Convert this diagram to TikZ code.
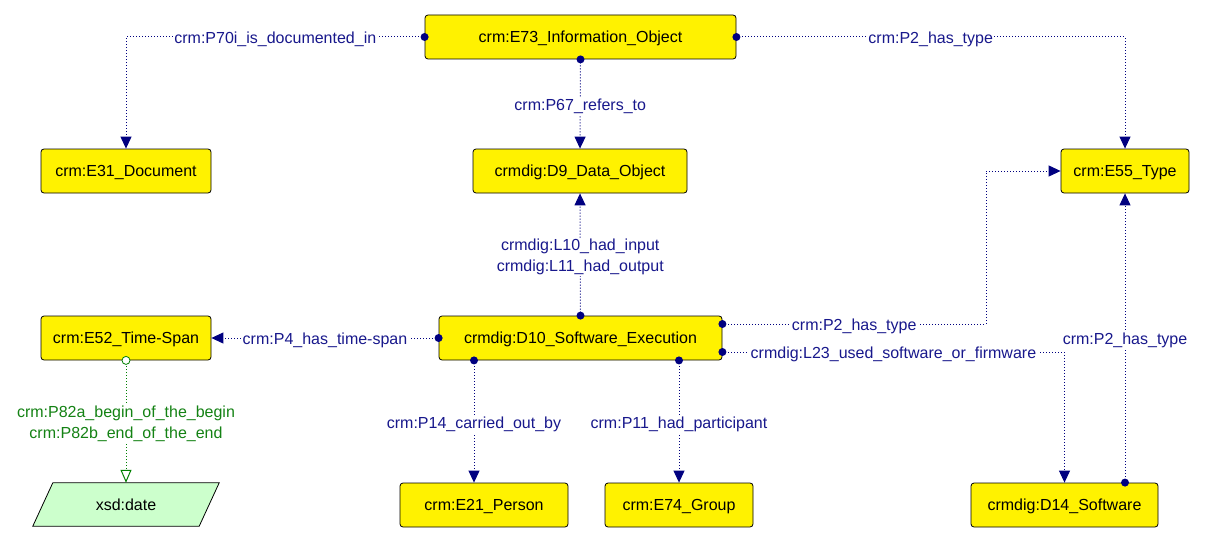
\documentclass[tikz,border=0pt]{standalone}
\usepackage{fontspec}
\setmainfont{Liberation Sans}
\usetikzlibrary{arrows.meta,calc}

\definecolor{edgeblue}{RGB}{0,0,128}
\definecolor{labelblue}{RGB}{24,24,140}
\definecolor{relgreen}{RGB}{0,128,0}
\definecolor{labelgreen}{RGB}{20,130,20}
\definecolor{datefill}{RGB}{204,255,204}

\begin{document}
\begin{tikzpicture}[x=1pt,y=-1pt,
  txt/.style={font=\fontsize{16}{21}\selectfont},
  cls/.style={txt, draw=black, fill=yellow, rounded corners=3pt,
    line width=0.8pt, minimum height=44pt, inner sep=0pt,
    text height=13pt, text depth=2pt},
  lit/.style={txt, inner sep=0pt, minimum height=43pt, minimum width=186pt},
  rel/.style={draw=edgeblue, line width=1pt, dash pattern=on 1pt off 2pt,
    -{Triangle[width=11pt,length=12pt]}},
  grel/.style={draw=relgreen, line width=1pt, dash pattern=on 1pt off 2pt,
    -{Triangle[open,width=11pt,length=13pt,fill=white]}},
  lbl/.style={txt, fill=white, inner sep=1.5pt, text=labelblue, align=center,
    yshift=-2.5pt},
  glbl/.style={txt, fill=white, inner sep=1.5pt, text=labelgreen, align=center,
    yshift=-2.5pt},
]
\useasboundingbox (0,0) rectangle (1205,543);
\fill[white] (0,0) rectangle (1205,543);

% classes
\node[cls, minimum width=311pt] (E73) at (580.5,37)  {crm:E73\_Information\_Object};
\node[cls, minimum width=170pt] (E31) at (126,171)   {crm:E31\_Document};
\node[cls, minimum width=214pt] (D9)  at (580,171)   {crmdig:D9\_Data\_Object};
\node[cls, minimum width=128pt] (E55) at (1125,171)  {crm:E55\_Type};
\node[cls, minimum width=170pt] (E52) at (126,338)   {crm:E52\_Time-Span};
\node[cls, minimum width=283pt] (D10) at (580.5,338) {crmdig:D10\_Software\_Execution};
\node[cls, minimum width=168pt] (E21) at (484,505)   {crm:E21\_Person};
\node[cls, minimum width=148pt] (E74) at (679,505)   {crm:E74\_Group};
\node[cls, minimum width=187pt] (D14) at (1064.5,505) {crmdig:D14\_Software};

% literal (parallelogram drawn around its node)
\node[lit] (date) at (126,504.5) {};
\filldraw[fill=datefill, draw=black, line width=0.8pt]
  ($(date.north west)+(20,0)$) -- (date.north east)
  -- ($(date.south east)+(-20,0)$) -- (date.south west) -- cycle;
\node[txt, text height=13pt, text depth=2pt] (datetext) at (date.center) {xsd:date};

% connection points
\coordinate (d10tr) at ($(D10.east)+(0,-14)$);
\coordinate (d10br) at ($(D10.east)+(0,14)$);
\coordinate (d10bl) at ($(D10.south)+(-106.5,0)$);
\coordinate (d10bm) at (D10.south -| E74.north);
\coordinate (d14tr) at (D14.north -| E55.south);
\coordinate (bendx) at (986,172);

% properties
\draw[rel] (E73.west) -| node[lbl, pos=0.25] {crm:P70i\_is\_documented\_in} (E31.north);
\draw[rel] (E73.south) -- node[lbl] {crm:P67\_refers\_to} (D9.north);
\draw[rel] (E73.east) -| node[lbl, pos=0.25] {crm:P2\_has\_type} (E55.north);
\draw[rel] (D10.north) -- node[lbl] {crmdig:L10\_had\_input\\crmdig:L11\_had\_output} (D9.south);
\draw[rel] (D10.west) -- node[lbl] {crm:P4\_has\_time-span} (E52.east);
\draw[rel] (d10tr) -- node[lbl] {crm:P2\_has\_type} (d10tr -| bendx) |- (E55.west);
\draw[rel] (d10br) -| node[lbl, pos=0.25] {crmdig:L23\_used\_software\_or\_firmware} (D14.north);
\draw[rel] (d14tr) -- node[lbl] {crm:P2\_has\_type} (E55.south);
\draw[rel] (d10bl) -- node[lbl] {crm:P14\_carried\_out\_by} (d10bl |- E21.north);
\draw[rel] (d10bm) -- node[lbl] {crm:P11\_had\_participant} (E74.north);
\draw[grel] (E52.south) -- node[glbl] {crm:P82a\_begin\_of\_the\_begin\\crm:P82b\_end\_of\_the\_end} (date.north);

% domain end markers
\foreach \p in {E73.west, E73.south, E73.east, D10.north, D10.west, d10tr, d10br, d14tr, d10bl, d10bm}
  \fill[edgeblue] (\p) circle (4pt);
\filldraw[draw=relgreen, fill=white, line width=0.8pt] (E52.south) circle (4pt);
\end{tikzpicture}
\end{document}
